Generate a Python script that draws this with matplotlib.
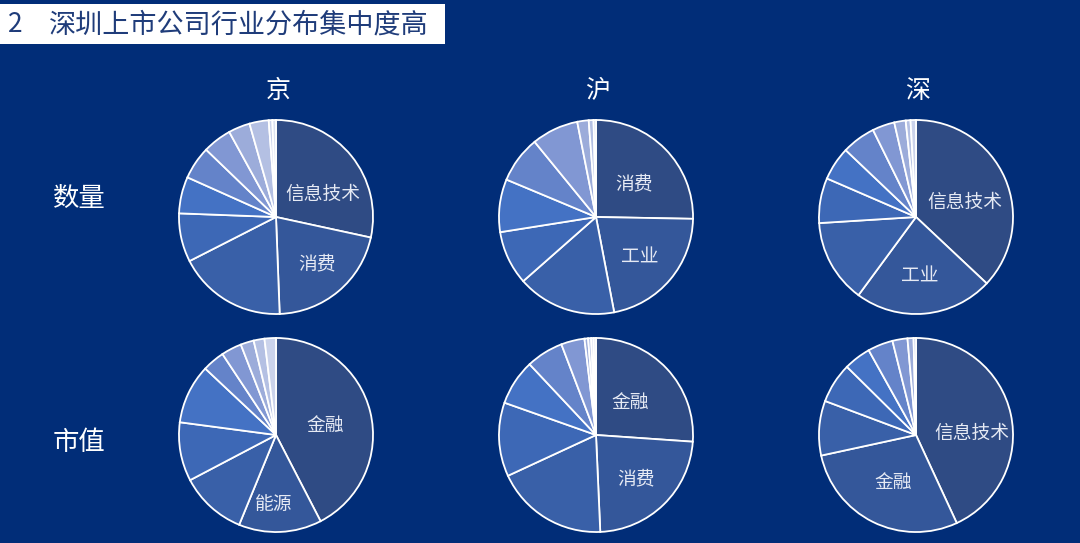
import matplotlib
matplotlib.use("Agg")
import matplotlib.pyplot as plt
from matplotlib.patches import Rectangle

plt.rcParams['font.family'] = ['Noto Sans CJK SC', 'DejaVu Sans']

title_num = "2"
title_text = "深圳上市公司行业分布集中度高"
col_titles = ["京", "沪", "深"]
row_titles = ["数量", "市值"]

# shares (%) clockwise from 12 o'clock
bj_count = [28.4, 21.0, 18.1, 8.1, 6.1, 5.5, 4.8, 3.6, 3.2, 0.6, 0.6]
sh_count = [25.3, 21.7, 16.5, 9.0, 8.8, 7.8, 7.8, 1.9, 0.8, 0.4]
sz_count = [37.0, 23.1, 13.9, 7.5, 5.6, 5.6, 3.7, 1.9, 0.8, 0.9]
bj_cap = [42.4, 13.8, 11.1, 9.8, 9.9, 3.7, 3.4, 2.2, 1.8, 1.9]
sh_cap = [26.1, 23.2, 18.8, 12.3, 7.6, 6.2, 3.9, 0.6, 0.5, 0.4, 0.4]
sz_cap = [43.1, 28.5, 9.1, 6.7, 4.5, 4.2, 2.5, 1.0, 0.4]

bj_count_labels = ["信息技术", "消费"]
sh_count_labels = ["消费", "工业"]
sz_count_labels = ["信息技术", "工业"]
bj_cap_labels = ["金融", "能源"]
sh_cap_labels = ["金融", "消费"]
sz_cap_labels = ["信息技术", "金融"]

palette = ["#2F4B84", "#34579A", "#3960A8", "#3D68B6", "#4472C4", "#6483C9",
           "#8197D3", "#9CACDA", "#B4C0E3", "#CBD3EB", "#DCE2F1"]

BG = "#012D78"
W, H = 1080, 543
fig = plt.figure(figsize=(W / 100, H / 100), dpi=100, facecolor=BG)

# title box
fig.patches.append(Rectangle((0, 1 - 44 / H), 445 / W, 40 / H, transform=fig.transFigure,
                             facecolor="white", edgecolor="none"))
fig.text(8 / W, 1 - 25 / H, title_num, color="#1F3C7A", fontsize=19, va="center", ha="left")
fig.text(49 / W, 1 - 25 / H, title_text, color="#1F3C7A", fontsize=19.5, va="center", ha="left",
         fontweight="medium")

col_x = [276, 596, 916]
row_y = [217, 435]
R = 98

pies = [[(bj_count, bj_count_labels), (sh_count, sh_count_labels), (sz_count, sz_count_labels)],
        [(bj_cap, bj_cap_labels), (sh_cap, sh_cap_labels), (sz_cap, sz_cap_labels)]]

# label offsets in radius units (style positions)
label_pos = [[[(0.48, 0.235), (0.415, -0.48)],
              [(0.385, 0.343), (0.45, -0.405)],
              [(0.495, 0.145), (0.035, -0.605)]],
             [[(0.505, 0.093), (-0.028, -0.705)],
              [(0.347, 0.333), (0.406, -0.448)],
              [(0.567, 0.014), (-0.232, -0.486)]]]

for r in range(2):
    for c in range(3):
        vals, labs = pies[r][c]
        cx, cy = col_x[c], row_y[r]
        ax = fig.add_axes([(cx - R) / W, (H - cy - R) / H, 2 * R / W, 2 * R / H])
        ax.set_facecolor(BG)
        ax.pie(vals, colors=palette[:len(vals)], startangle=90, counterclock=False,
               wedgeprops=dict(edgecolor="white", linewidth=1.3), radius=0.99)
        for lab, (dx, dy) in zip(labs, label_pos[r][c]):
            ax.text(dx, dy, lab, color="#E6EAF4", fontsize=13.5, ha="center", va="center")
        ax.set_xlim(-1.0, 1.0)
        ax.set_ylim(-1.0, 1.0)
        ax.set_aspect("equal")
        ax.axis("off")

for c, t in enumerate(col_titles):
    fig.text((col_x[c] + 2) / W, 1 - 91 / H, t, color="white", fontsize=18, ha="center", va="center")
for r, t in enumerate(row_titles):
    fig.text(79 / W, 1 - [198, 443][r] / H, t, color="white", fontsize=19, ha="center", va="center")

fig.savefig("out.png", dpi=100, facecolor=BG)
